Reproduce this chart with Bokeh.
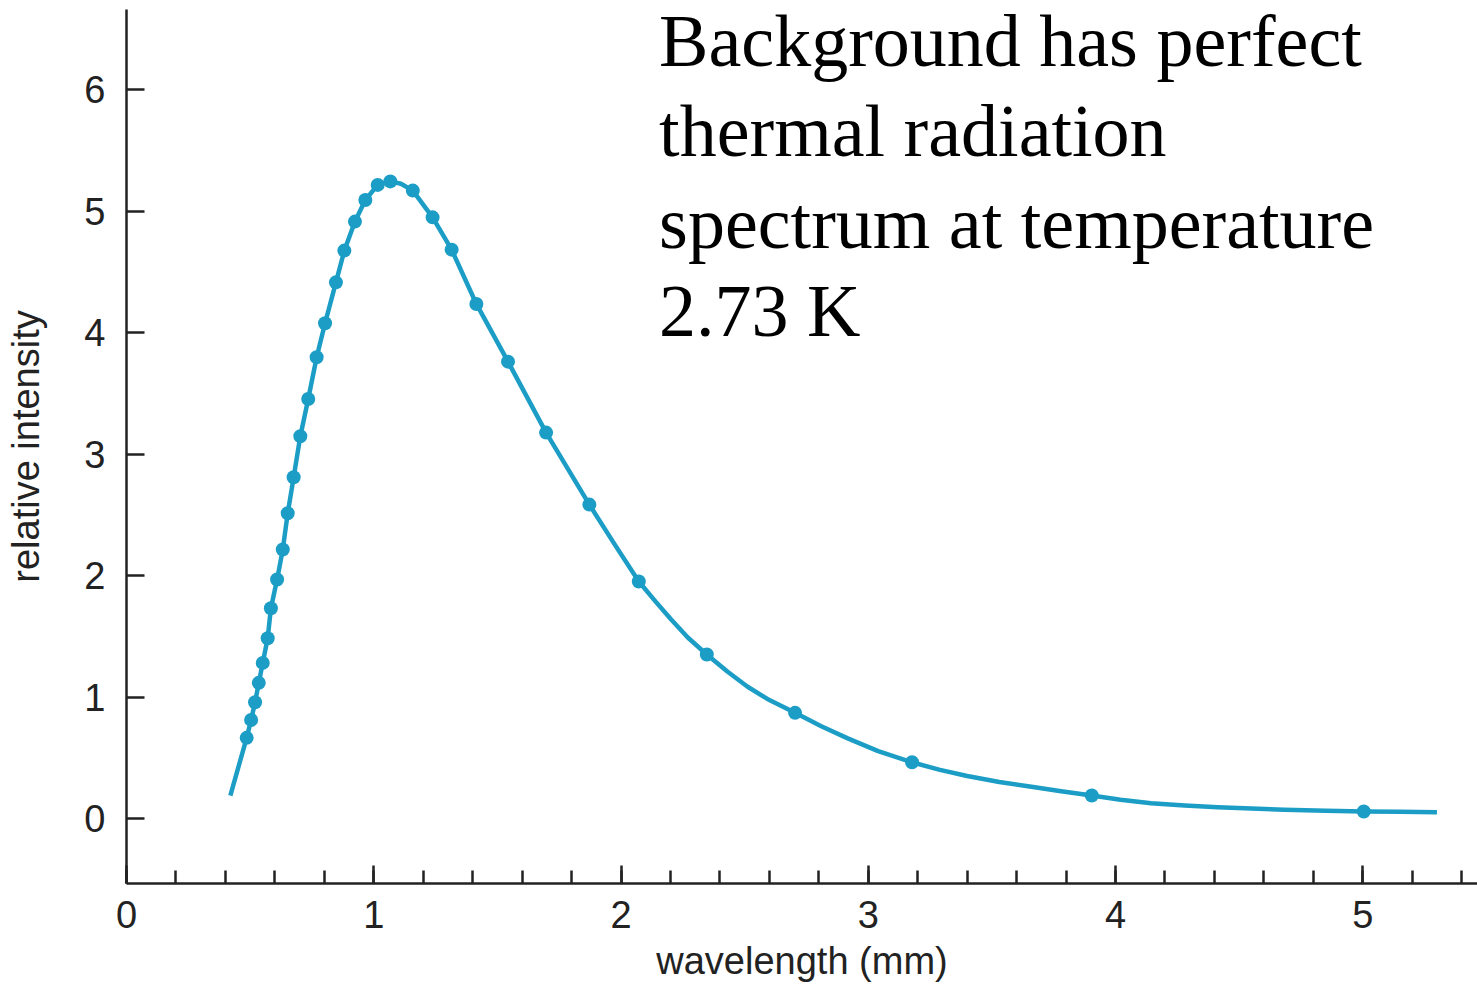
from bokeh.plotting import figure
from bokeh.models import SingleIntervalTicker, Label, Range1d
from bokeh.embed import file_html
from bokeh.resources import INLINE

# measured points (wavelength in mm, relative intensity)
wavelength = [0.486, 0.504, 0.520, 0.535, 0.551, 0.571, 0.584, 0.609, 0.632, 0.652,
              0.676, 0.703, 0.735, 0.769, 0.803, 0.847, 0.881, 0.924, 0.966, 1.016,
              1.067, 1.158, 1.238, 1.315, 1.415, 1.543, 1.697, 1.872, 2.072, 2.347,
              2.704, 3.177, 3.904, 5.004]
intensity = [0.664, 0.812, 0.957, 1.117, 1.281, 1.484, 1.731, 1.967, 2.214, 2.513,
             2.809, 3.147, 3.454, 3.797, 4.077, 4.414, 4.675, 4.914, 5.092, 5.216,
             5.245, 5.169, 4.949, 4.683, 4.236, 3.761, 3.177, 2.584, 1.951, 1.350,
             0.870, 0.463, 0.189, 0.058]

# thermal (blackbody) curve
curve_x = [0.420, 0.486, 0.504, 0.520, 0.535, 0.551, 0.571, 0.584, 0.609, 0.632,
           0.652, 0.676, 0.703, 0.735, 0.769, 0.803, 0.847, 0.881, 0.924, 0.966,
           1.016, 1.067, 1.110, 1.158, 1.238, 1.315, 1.415, 1.543, 1.697, 1.872,
           1.973, 2.072, 2.140, 2.202, 2.270, 2.347, 2.430, 2.512, 2.600, 2.704,
           2.810, 2.917, 3.040, 3.177, 3.290, 3.400, 3.530, 3.660, 3.780, 3.904,
           4.020, 4.144, 4.280, 4.413, 4.550, 4.683, 4.850, 5.004, 5.150, 5.300]
curve_y = [0.189, 0.664, 0.812, 0.957, 1.117, 1.281, 1.484, 1.731, 1.967, 2.214,
           2.513, 2.809, 3.147, 3.454, 3.797, 4.077, 4.414, 4.675, 4.914, 5.092,
           5.216, 5.245, 5.225, 5.169, 4.949, 4.683, 4.236, 3.761, 3.177, 2.584,
           2.261, 1.951, 1.785, 1.640, 1.490, 1.350, 1.210, 1.085, 0.975, 0.870,
           0.760, 0.660, 0.555, 0.463, 0.400, 0.350, 0.300, 0.262, 0.225, 0.189,
           0.155, 0.126, 0.108, 0.093, 0.082, 0.072, 0.064, 0.058, 0.055, 0.052]

annotation_lines = ["Background has perfect", "thermal radiation",
                    "spectrum at temperature", "2.73 K"]

BLUE = "#1b9dc6"
INK = "#222222"

p = figure(width=1477, height=987, output_backend="svg", toolbar_location=None,
           x_range=Range1d(0, 5.464), y_range=Range1d(-0.535, 6.66),
           min_border_left=126, min_border_right=0, min_border_top=9,
           min_border_bottom=104, x_axis_label="wavelength (mm)",
           y_axis_label="relative intensity")
p.outline_line_color = None
p.grid.grid_line_color = None
p.background_fill_color = "white"
p.border_fill_color = "white"

p.xaxis.ticker = SingleIntervalTicker(interval=1, num_minor_ticks=5)
p.yaxis.ticker = SingleIntervalTicker(interval=1, num_minor_ticks=0)

for ax in (p.xaxis[0], p.yaxis[0]):
    ax.axis_line_color = INK
    ax.axis_line_width = 2.5
    ax.major_tick_line_color = INK
    ax.major_tick_line_width = 2.5
    ax.minor_tick_line_color = INK
    ax.minor_tick_line_width = 2.5
    ax.major_tick_in = 18
    ax.major_tick_out = 0
    ax.minor_tick_in = 13
    ax.minor_tick_out = 0
    ax.major_label_text_font = "Liberation Sans"
    ax.major_label_text_font_size = "38px"
    ax.major_label_text_color = INK
    ax.axis_label_text_font = "Liberation Sans"
    ax.axis_label_text_font_size = "38px"
    ax.axis_label_text_font_style = "normal"
    ax.axis_label_text_color = INK

p.xaxis.major_label_standoff = 17
p.xaxis.axis_label_standoff = 9
p.yaxis.major_label_standoff = 21
p.yaxis.axis_label_standoff = 34
p.yaxis.minor_tick_line_color = None

p.line(curve_x, curve_y, line_color=BLUE, line_width=4.5, line_join="round")
p.scatter(wavelength, intensity, size=14, fill_color=BLUE, line_color=None)

# annotation text (baseline positions in data units)
ann_y = [6.404, 5.663, 4.906, 4.182]
for txt, yy in zip(annotation_lines, ann_y):
    p.add_layout(Label(x=2.154, y=yy, text=txt, text_font="Liberation Serif",
                       text_font_size="74px", text_color="black",
                       text_baseline="alphabetic", text_align="left"))

open("out.html", "w").write(file_html(p, INLINE))
